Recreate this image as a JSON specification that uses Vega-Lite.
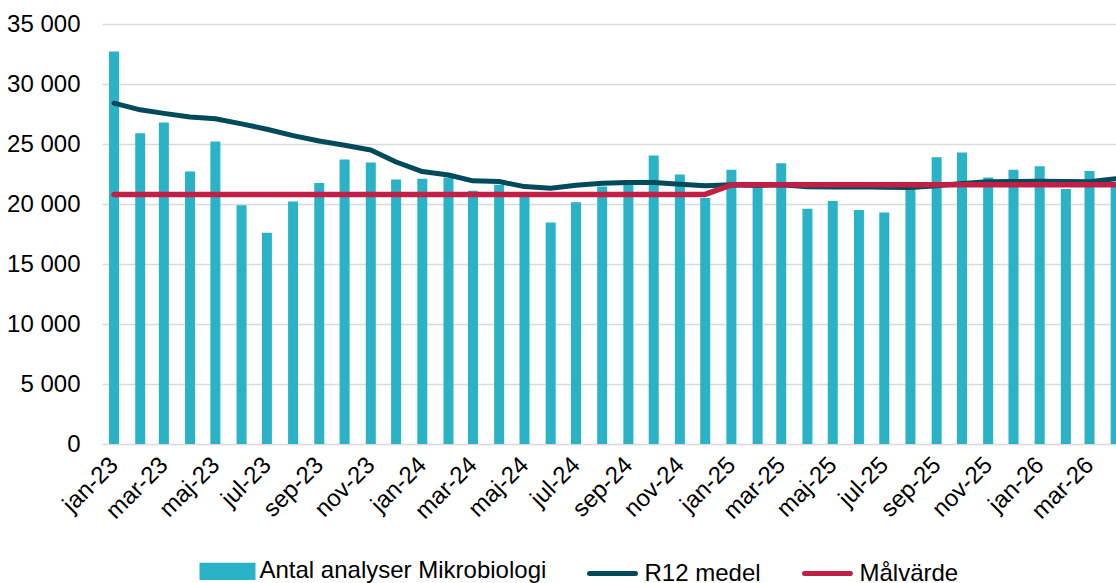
{
  "$schema": "https://vega.github.io/schema/vega-lite/v6.json",
  "width": 1014,
  "height": 420,
  "autosize": "none",
  "padding": {"left": 102, "top": 24, "right": 0, "bottom": 139},
  "background": "white",
  "config": {
    "font": "Liberation Sans",
    "view": {"stroke": null},
    "axis": {"labelFont": "Liberation Sans", "labelFontSize": 24, "labelColor": "#000000"}
  },
  "data": {
    "values": [
      {"month": "2023-01-01", "antal": 32700, "r12": 28400, "mal": 20800},
      {"month": "2023-02-01", "antal": 25900, "r12": 27850, "mal": 20800},
      {"month": "2023-03-01", "antal": 26800, "r12": 27550, "mal": 20800},
      {"month": "2023-04-01", "antal": 22700, "r12": 27250, "mal": 20800},
      {"month": "2023-05-01", "antal": 25200, "r12": 27100, "mal": 20800},
      {"month": "2023-06-01", "antal": 19900, "r12": 26680, "mal": 20800},
      {"month": "2023-07-01", "antal": 17600, "r12": 26230, "mal": 20800},
      {"month": "2023-08-01", "antal": 20200, "r12": 25700, "mal": 20800},
      {"month": "2023-09-01", "antal": 21750, "r12": 25250, "mal": 20800},
      {"month": "2023-10-01", "antal": 23700, "r12": 24900, "mal": 20800},
      {"month": "2023-11-01", "antal": 23450, "r12": 24500, "mal": 20800},
      {"month": "2023-12-01", "antal": 22050, "r12": 23500, "mal": 20800},
      {"month": "2024-01-01", "antal": 22100, "r12": 22700, "mal": 20800},
      {"month": "2024-02-01", "antal": 22200, "r12": 22420, "mal": 20800},
      {"month": "2024-03-01", "antal": 21100, "r12": 21930, "mal": 20800},
      {"month": "2024-04-01", "antal": 21600, "r12": 21870, "mal": 20800},
      {"month": "2024-05-01", "antal": 20750, "r12": 21450, "mal": 20800},
      {"month": "2024-06-01", "antal": 18450, "r12": 21320, "mal": 20800},
      {"month": "2024-07-01", "antal": 20150, "r12": 21570, "mal": 20800},
      {"month": "2024-08-01", "antal": 21450, "r12": 21730, "mal": 20800},
      {"month": "2024-09-01", "antal": 22000, "r12": 21790, "mal": 20800},
      {"month": "2024-10-01", "antal": 24050, "r12": 21790, "mal": 20800},
      {"month": "2024-11-01", "antal": 22450, "r12": 21650, "mal": 20800},
      {"month": "2024-12-01", "antal": 20500, "r12": 21520, "mal": 20800},
      {"month": "2025-01-01", "antal": 22850, "r12": 21600, "mal": 21600},
      {"month": "2025-02-01", "antal": 21350, "r12": 21550, "mal": 21600},
      {"month": "2025-03-01", "antal": 23400, "r12": 21600, "mal": 21600},
      {"month": "2025-04-01", "antal": 19600, "r12": 21430, "mal": 21600},
      {"month": "2025-05-01", "antal": 20250, "r12": 21410, "mal": 21600},
      {"month": "2025-06-01", "antal": 19500, "r12": 21440, "mal": 21600},
      {"month": "2025-07-01", "antal": 19300, "r12": 21400, "mal": 21600},
      {"month": "2025-08-01", "antal": 21250, "r12": 21380, "mal": 21600},
      {"month": "2025-09-01", "antal": 23900, "r12": 21520, "mal": 21600},
      {"month": "2025-10-01", "antal": 24300, "r12": 21700, "mal": 21600},
      {"month": "2025-11-01", "antal": 22200, "r12": 21850, "mal": 21600},
      {"month": "2025-12-01", "antal": 22850, "r12": 21880, "mal": 21600},
      {"month": "2026-01-01", "antal": 23150, "r12": 21900, "mal": 21600},
      {"month": "2026-02-01", "antal": 21250, "r12": 21870, "mal": 21600},
      {"month": "2026-03-01", "antal": 22750, "r12": 21850, "mal": 21600},
      {"month": "2026-04-01", "antal": 21700, "r12": 22100, "mal": 21600}
    ]
  },
  "encoding": {
    "x": {
      "field": "month",
      "type": "temporal",
      "scale": {
        "type": "utc",
        "nice": false,
        "padding": 0,
        "domain": [1671300000000, 1775034000000]
      },
      "axis": {
        "title": null,
        "domain": false,
        "ticks": false,
        "grid": false,
        "tickCount": {"interval": "month", "step": 2},
        "labelAngle": -45,
        "labelAlign": "right",
        "labelBaseline": "middle",
        "labelPadding": 17,
        "labelOverlap": false,
        "labelFlush": false,
        "labelExpr": "['jan','feb','mar','apr','maj','jun','jul','aug','sep','okt','nov','dec'][utcmonth(datum.value)] + '-' + utcFormat(datum.value, '%y')"
      }
    }
  },
  "layer": [
    {
      "mark": {"type": "bar", "size": 10, "clip": true},
      "encoding": {
        "y": {
          "field": "antal",
          "type": "quantitative",
          "scale": {"domain": [0, 35000], "nice": false},
          "axis": {
            "title": null,
            "domain": false,
            "ticks": false,
            "values": [0, 5000, 10000, 15000, 20000, 25000, 30000, 35000],
            "gridColor": "#d9d9d9",
            "gridWidth": 1.6,
            "labelPadding": 22,
            "labelExpr": "replace(format(datum.value, ',d'), ',', ' ')"
          }
        },
        "color": {
          "datum": "Antal analyser Mikrobiologi",
          "type": "nominal",
          "scale": {
            "domain": ["Antal analyser Mikrobiologi", "R12 medel", "Målvärde"],
            "range": ["#2AB2C7", "#004A5B", "#C21F47"]
          },
          "legend": {
            "orient": "none",
            "legendX": 97.5,
            "legendY": 519,
            "direction": "horizontal",
            "columns": 3,
            "title": null,
            "labelFont": "Liberation Sans",
            "labelFontSize": 24,
            "labelColor": "#000000",
            "labelLimit": 500,
            "labelOffset": 4,
            "columnPadding": 33,
            "symbolSize": 2601,
            "symbolStrokeWidth": 5,
            "encode": {
              "symbols": {
                "update": {
                  "shape": {"signal": "datum.value === 'Antal analyser Mikrobiologi' ? 'M-1,-0.24H1V0.24H-1Z' : 'M-0.9,0H0.9'"},
                  "size": {"value": 2601},
                  "fill": {"signal": "datum.value === 'Antal analyser Mikrobiologi' ? '#2AB2C7' : 'transparent'"},
                  "stroke": {"signal": "datum.value === 'Antal analyser Mikrobiologi' ? 'transparent' : (datum.value === 'R12 medel' ? '#004A5B' : '#C21F47')"},
                  "strokeWidth": {"value": 5},
                  "strokeCap": {"value": "round"},
                  "opacity": {"value": 1},
                  "fillOpacity": {"value": 1},
                  "strokeOpacity": {"value": 1}
                }
              }
            }
          }
        }
      }
    },
    {
      "mark": {"type": "line", "strokeWidth": 5, "strokeCap": "round", "strokeJoin": "round", "clip": true},
      "encoding": {
        "y": {"field": "r12", "type": "quantitative", "axis": {"title": null}},
        "color": {"datum": "R12 medel", "type": "nominal"}
      }
    },
    {
      "mark": {"type": "line", "strokeWidth": 5.5, "strokeCap": "round", "strokeJoin": "round", "clip": true},
      "encoding": {
        "y": {"field": "mal", "type": "quantitative", "axis": {"title": null}},
        "color": {"datum": "Målvärde", "type": "nominal"}
      }
    }
  ]
}
